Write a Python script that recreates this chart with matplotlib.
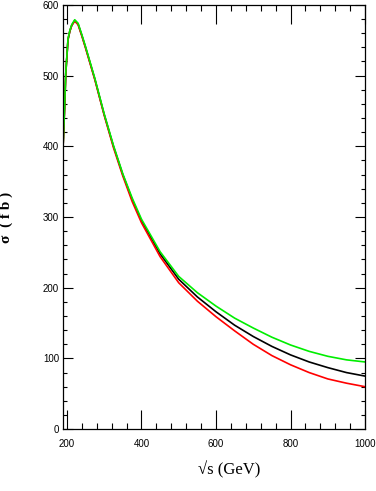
import matplotlib
matplotlib.use("Agg")
import matplotlib.pyplot as plt
from matplotlib import font_manager
from matplotlib.ticker import MultipleLocator

# sqrt(s) in GeV
sqrt_s = [190, 194, 197, 203, 208, 213, 221, 230, 240, 250, 260, 275, 300,
          325, 350, 375, 400, 450, 500, 550, 600, 650, 700, 750, 800, 850,
          900, 950, 1000]

# cross sections in fb
sigma_black = [403, 456, 503, 551, 563, 571, 578, 573, 557, 540, 522, 495, 445,
               400, 360, 325, 295, 248, 212, 187, 166, 147, 131, 117, 105, 95,
               87, 80, 75]
sigma_red = [403, 456, 503, 551, 563, 571, 577, 572, 556, 539, 521, 494, 444,
             398, 358, 322, 292, 244, 207, 181, 159, 139, 120, 104, 91, 80,
             71, 65, 60]
sigma_green = [404, 457, 504, 552, 564, 572, 579, 574, 558, 541, 523, 496, 446,
               401, 361, 327, 297, 251, 216, 193, 174, 157, 143, 130, 119, 110,
               103, 98, 95]

names = {f.name for f in font_manager.fontManager.ttflist}
tick_font = "Liberation Sans Narrow" if "Liberation Sans Narrow" in names else "Liberation Sans"

fig = plt.figure(figsize=(3.76, 4.91), dpi=100)
ax = fig.add_axes([0.168, 0.126, 0.803, 0.864])

ax.plot(sqrt_s, sigma_black, color="black", lw=1.2)
ax.plot(sqrt_s, sigma_red, color="#ff0000", lw=1.2)
ax.plot(sqrt_s, sigma_green, color="#00ee00", lw=1.2)

ax.set_xlim(190, 1000)
ax.set_ylim(0, 600)

ax.xaxis.set_major_locator(MultipleLocator(200))
ax.xaxis.set_minor_locator(MultipleLocator(40))
ax.yaxis.set_major_locator(MultipleLocator(100))
ax.yaxis.set_minor_locator(MultipleLocator(20))

ax.tick_params(axis="both", which="both", direction="in", top=True, right=True,
               labelsize=8 if tick_font.endswith("Narrow") else 7, width=0.8)
ax.tick_params(axis="x", which="major", length=14, pad=7)
ax.tick_params(axis="x", which="minor", length=4.3)
ax.tick_params(axis="y", which="major", length=7, pad=3)
ax.tick_params(axis="y", which="minor", length=3)

for lab in ax.get_xticklabels() + ax.get_yticklabels():
    lab.set_family(tick_font)

for sp in ax.spines.values():
    sp.set_linewidth(0.9)

ax.set_xlabel("√s (GeV)", family="Liberation Serif", fontsize=12)
ax.xaxis.set_label_coords(0.55, -0.075)
ax.set_ylabel("σ  ( f b )", family="Liberation Serif", fontweight="bold",
              fontsize=11)
ax.yaxis.set_label_coords(-0.165, 0.5)

fig.savefig("out.png", dpi=100)
